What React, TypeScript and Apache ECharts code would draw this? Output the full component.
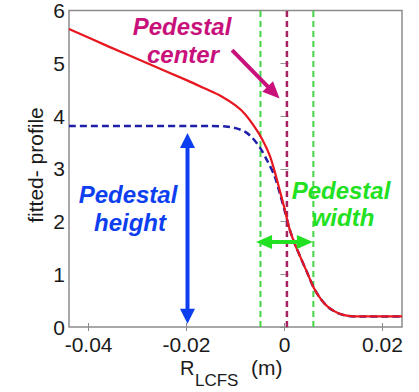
import React, { useEffect, useRef } from "react";
import * as echarts from "echarts";

const xTicks = [-0.04, -0.02, 0, 0.02];
const xRange = [-0.044, 0.024];
const yRange = [0, 6];

// full fitted profile (mtanh, red)
const fitX = [-0.044, -0.036, -0.028, -0.02, -0.016, -0.013, -0.01, -0.008, -0.006, -0.0045, -0.003, -0.002, -0.001, 0, 0.001, 0.002, 0.003, 0.0045, 0.006, 0.0075, 0.009, 0.011, 0.013, 0.016, 0.024];
const fitY = [5.65, 5.32, 5.0, 4.68, 4.51, 4.38, 4.2, 4.03, 3.78, 3.55, 3.25, 2.95, 2.6, 2.25, 1.87, 1.6, 1.38, 1.06, 0.74, 0.52, 0.37, 0.26, 0.21, 0.2, 0.2];

// tanh part (blue dashed)
const tanhX = [-0.044, -0.015, -0.012, -0.01, -0.008, -0.0065, -0.005, -0.0035, -0.002, -0.001, 0, 0.001, 0.002, 0.003, 0.0045, 0.006, 0.0075, 0.009, 0.011, 0.013, 0.016, 0.024];
const tanhY = [3.81, 3.81, 3.8, 3.77, 3.7, 3.58, 3.4, 3.15, 2.86, 2.55, 2.22, 1.87, 1.6, 1.38, 1.06, 0.74, 0.52, 0.37, 0.26, 0.21, 0.2, 0.2];

const pedestalCenter = 0.0005;
const pedestalEdges = [-0.0049, 0.0059];

const heightArrow = [[-0.0198, 3.68], [-0.0198, 0.06]];
const widthArrow = [[-0.0058, 1.61], [0.0058, 1.61]];
const centerArrow = [[-0.0107, 5.25], [-0.001, 4.33]];

const FONT = '"Liberation Sans", Arial, sans-serif';
const MAGENTA = "#c8117a";
const BLUE = "#0d3ff0";
const GREEN = "#22e022";

function arrow(p0: number[], p1: number[], color: string, headL: number, headW: number, shaft: number, both: boolean) {
  const dx = p1[0] - p0[0];
  const dy = p1[1] - p0[1];
  const len = Math.hypot(dx, dy);
  const ux = dx / len, uy = dy / len;
  const els: any[] = [];
  const s = both ? [p0[0] + ux * headL * 0.8, p0[1] + uy * headL * 0.8] : p0;
  const e = [p1[0] - ux * headL * 0.8, p1[1] - uy * headL * 0.8];
  els.push({ type: "line", shape: { x1: s[0], y1: s[1], x2: e[0], y2: e[1] }, style: { stroke: color, lineWidth: shaft }, z: 20 });
  const head = (tip: number[], vx: number, vy: number) => {
    const bx = tip[0] - vx * headL, by = tip[1] - vy * headL;
    return {
      type: "polygon",
      shape: { points: [tip, [bx - vy * headW / 2, by + vx * headW / 2], [bx + vy * headW / 2, by - vx * headW / 2]] },
      style: { fill: color },
      z: 21,
    };
  };
  els.push(head(p1, ux, uy));
  if (both) els.push(head(p0, -ux, -uy));
  return els;
}

function txt(text: string, x: number, y: number, color: string, size: number) {
  return {
    type: "text",
    x, y,
    z: 30,
    style: {
      text, fill: color, fontSize: size, fontFamily: FONT,
      fontWeight: "bold", fontStyle: "italic",
      align: "center", verticalAlign: "middle",
    },
  };
}

function vline(x: number, color: string, width: number) {
  return {
    type: "line", showSymbol: false, z: 1, silent: true,
    data: [[x, yRange[0]], [x, yRange[1]]],
    lineStyle: { color, width, type: [6, 4] },
  };
}

export default function App() {
  const ref = useRef<HTMLDivElement>(null);
  useEffect(() => {
    if (!ref.current) return;
    const chart = echarts.init(ref.current, null, { renderer: "svg" });
    const axisGray = "#8c8c8c";
    const xBase = {
      type: "value",
      min: xRange[0],
      max: xRange[1],
      splitLine: { show: false },
      axisLine: { show: false },
    };
    chart.setOption({
      animation: false,
      backgroundColor: "#ffffff",
      grid: { left: 69, right: 17, top: 10, bottom: 65, show: true, borderColor: axisGray, borderWidth: 1.5, backgroundColor: "transparent" },
      xAxis: [
        {
          ...xBase,
          position: "bottom",
          axisTick: { show: true, inside: true, length: 4, lineStyle: { color: axisGray }, customValues: xTicks },
          axisLabel: {
            show: true, customValues: xTicks, fontSize: 21, fontFamily: FONT, color: "#1a1a1a", margin: 7,
            formatter: (v: number) => (Math.abs(v) < 1e-9 ? "0" : String(+v.toFixed(2))),
          },
        },
        {
          ...xBase,
          position: "top",
          axisTick: { show: true, inside: true, length: 4, lineStyle: { color: axisGray }, customValues: xTicks },
          axisLabel: { show: false },
        },
      ],
      yAxis: [
        {
          type: "value", min: yRange[0], max: yRange[1], interval: 1, position: "left",
          splitLine: { show: false }, axisLine: { show: false },
          axisTick: { show: true, inside: true, length: 4, lineStyle: { color: axisGray } },
          axisLabel: { fontSize: 21, fontFamily: FONT, color: "#1a1a1a", margin: 4 },
        },
        {
          type: "value", min: yRange[0], max: yRange[1], interval: 1, position: "right",
          splitLine: { show: false }, axisLine: { show: false },
          axisTick: { show: true, inside: true, length: 4, lineStyle: { color: axisGray } },
          axisLabel: { show: false },
        },
      ],
      series: [
        vline(pedestalEdges[0], "#44d444", 2),
        vline(pedestalEdges[1], "#44d444", 2),
        vline(pedestalCenter, "#a8215e", 2.5),
        {
          type: "line", showSymbol: false, z: 2,
          data: tanhX.map((x, i) => [x, tanhY[i]]),
          smooth: 0.3,
          lineStyle: { color: "#1e1ea8", width: 2.5, type: [7, 4] },
        },
        {
          type: "line", showSymbol: false, z: 3,
          data: fitX.map((x, i) => [x, fitY[i]]),
          smooth: 0.3,
          lineStyle: { color: "#e8161e", width: 2.2 },
        },
      ],
    });

    const px = (p: number[]) => chart.convertToPixel({ gridIndex: 0 }, p) as number[];
    const graphics: any[] = [
      ...arrow(px(heightArrow[0]), px(heightArrow[1]), BLUE, 15, 15, 4, true),
      ...arrow(px(widthArrow[0]), px(widthArrow[1]), GREEN, 16, 14, 4, true),
      ...arrow(px(centerArrow[0]), px(centerArrow[1]), MAGENTA, 17, 15, 4, false),
      txt("Pedestal", 182, 26, MAGENTA, 24),
      txt("center", 183, 54, MAGENTA, 24),
      txt("Pedestal", 128, 194, BLUE, 24),
      txt("height", 130, 222, BLUE, 24),
      txt("Pedestal", 341, 190, GREEN, 24),
      txt("width", 343, 217, GREEN, 24),
      { type: "text", x: 35, y: 165, rotation: Math.PI / 2, z: 30,
        style: { text: "fitted- profile", fill: "#1a1a1a", fontSize: 21, fontFamily: FONT, align: "center", verticalAlign: "middle" } },
      { type: "text", x: 180, y: 358, z: 30, style: { text: "R", fill: "#1a1a1a", fontSize: 20, fontFamily: FONT, align: "left", verticalAlign: "top" } },
      { type: "text", x: 195, y: 372, z: 30, style: { text: "LCFS", fill: "#1a1a1a", fontSize: 17, fontFamily: FONT, align: "left", verticalAlign: "top" } },
      { type: "text", x: 251, y: 357, z: 30, style: { text: "(m)", fill: "#1a1a1a", fontSize: 21, fontFamily: FONT, align: "left", verticalAlign: "top" } },
    ];
    chart.setOption({ graphic: graphics });
    return () => chart.dispose();
  }, []);
  return <div ref={ref} style={{ position: "fixed", left: 0, top: 0, width: 419, height: 392 }} />;
}
